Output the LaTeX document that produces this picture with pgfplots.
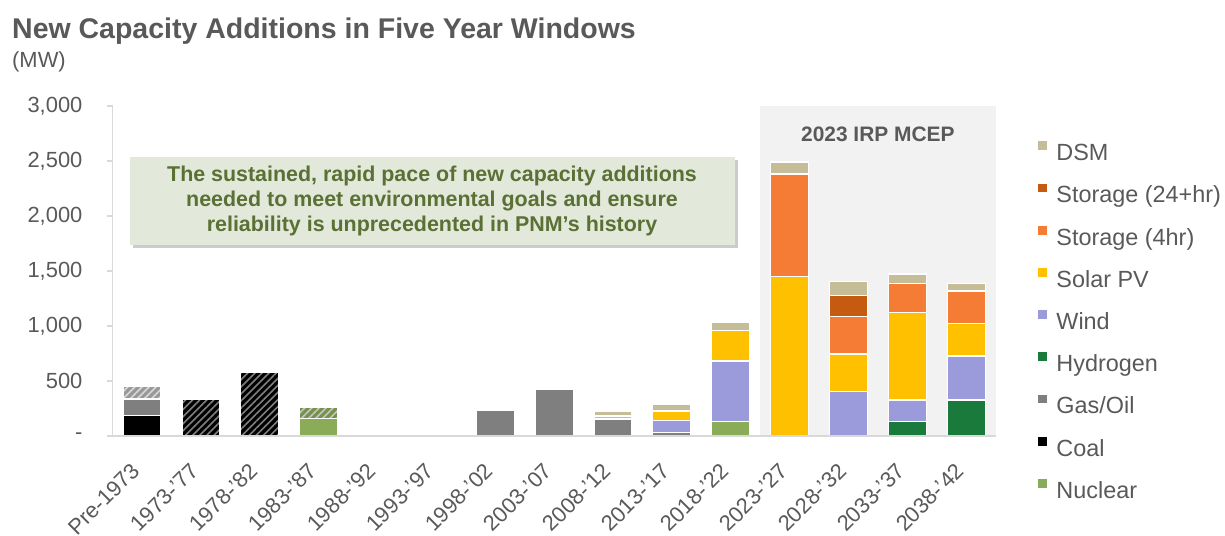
\documentclass[border=0pt]{standalone}
\usepackage{fontspec}
\setmainfont{Liberation Sans}
\usepackage{pgfplots}
\pgfplotsset{compat=1.18}
\usepackage{pgfplotstable}
\usetikzlibrary{patterns.meta,shadows}

\definecolor{dsm}{HTML}{C4BD97}
\definecolor{sttf}{HTML}{C55A11}
\definecolor{stf}{HTML}{F47C34}
\definecolor{solar}{HTML}{FFC000}
\definecolor{wind}{HTML}{9B9BDB}
\definecolor{hyd}{HTML}{1A7A3C}
\definecolor{gas}{HTML}{7F7F7F}
\definecolor{coal}{HTML}{000000}
\definecolor{nuc}{HTML}{8AAC58}
\definecolor{txt}{HTML}{595959}
\definecolor{axisgray}{HTML}{D9D9D9}
\definecolor{boxgray}{HTML}{F2F2F2}
\definecolor{notefill}{HTML}{E3E9DA}
\definecolor{notetext}{HTML}{5A7034}

% MW added per five-year window; *h columns are the hatched parts
\pgfplotstableread{
x  nuc nuch coal coalh gas gash hyd wind solar stf sttf dsm
0  0   0    190  0     146 114  0   0    0     0   0    0
1  0   0    0    335   0   0    0   0    0     0   0    0
2  0   0    0    575   0   0    0   0    0     0   0    0
3  160 104  0    0     0   0    0   0    0     0   0    0
4  0   0    0    0     0   0    0   0    0     0   0    0
5  0   0    0    0     0   0    0   0    0     0   0    0
6  0   0    0    0     230 0    0   0    0     0   0    0
7  0   0    0    0     425 0    0   0    0     0   0    0
8  0   0    0    0     155 0    0   0    27    0   0    45
9  0   0    0    0     30  0    0   113  84    0   0    64
10 130 0    0    0     0   0    0   552  275   0   0    77
11 0   0    0    0     0   0    0   0    1450  932 0    109
12 0   0    0    0     0   0    0   403  342   340 190  131
13 0   0    0    0     0   0    130 197  794   267 0    85
14 0   0    0    0     0   0    327 400  297   294 0    70
}\capdata

\tikzset{hatch/.style={postaction={pattern={Lines[angle=45,distance=5bp,line width=1.6bp]},pattern color=#1}}}

\begin{document}
\begin{tikzpicture}
\path[use as bounding box] (0,0) rectangle (1225bp,-536bp);
\node[anchor=base west, text=txt, inner sep=0pt] at (12bp,-38bp)
  {\fontsize{28.6}{32}\selectfont\bfseries New Capacity Additions in Five Year Windows};
\node[anchor=base west, text=txt, inner sep=0pt] at (12bp,-67bp)
  {\fontsize{22}{26}\selectfont (MW)};
% shaded MCEP window behind the last four bars
\fill[boxgray] (760bp,-436bp) rectangle (995.6bp,-106bp);
\begin{axis}[
  at={(112.6bp,-436bp)}, anchor=south west,
  scale only axis, width=883bp, height=330bp,
  axis on top,
  ybar stacked, bar width=38bp,
  xmin=-0.5, xmax=14.5, ymin=0, ymax=3000,
  clip=false,
  axis x line*=bottom, axis y line*=left,
  axis line style={axisgray, line width=1.5bp},
  tick align=outside,
  xtick={0,...,14},
  xticklabels={Pre-1973,1973-'77,1978-'82,1983-'87,1988-'92,1993-'97,1998-'02,2003-'07,2008-'12,2013-'17,2018-'22,2023-'27,2028-'32,2033-'37,2038-'42},
  xtick style={draw=none},
  minor xtick={-0.5,0.5,...,14.5},
  minor tick length=6bp,
  minor x tick style={axisgray, line width=1.5bp},
  ytick={0,500,...,3000},
  yticklabels={{-\hspace{30bp}},500,{1,000},{1,500},{2,000},{2,500},{3,000}},
  major tick length=6bp,
  ytick style={axisgray, line width=1.5bp},
  xticklabel style={xshift=-6bp, yshift=-25bp, rotate=45, anchor=east, inner sep=0pt, font=\fontsize{22}{26}\selectfont, text=txt},
  yticklabel style={anchor=east, inner sep=0pt, xshift=-24bp, font=\fontsize{22}{26}\selectfont, text=txt},
  every axis plot/.append style={draw=white, line width=1.2bp},
  reverse legend,
  legend cell align=left,
  legend image code/.code={\fill[#1] (0bp,3.4bp) rectangle (10bp,13.4bp);},
  legend style={at={(1.0469,0.897)}, anchor=north west, draw=none, fill=none,
    inner sep=0pt, row sep=17.7bp, font=\fontsize{23.5}{27}\selectfont, text=txt,
    nodes={inner sep=0pt, text height=17bp, text depth=4bp},
    /tikz/every odd column/.append style={column sep=8bp}},
]
\addplot[fill=nuc] table[x=x,y=nuc] {\capdata};
\addlegendentry{Nuclear}
\addplot[fill=nuc!85!black, hatch=white!55!gray, forget plot] table[x=x,y=nuch] {\capdata};
\addplot[fill=coal] table[x=x,y=coal] {\capdata};
\addlegendentry{Coal}
\addplot[fill=coal, hatch=gray, forget plot] table[x=x,y=coalh] {\capdata};
\addplot[fill=gas] table[x=x,y=gas] {\capdata};
\addlegendentry{Gas/Oil}
\addplot[fill=gas!80!white, hatch=white!70!gray, forget plot] table[x=x,y=gash] {\capdata};
\addplot[fill=hyd] table[x=x,y=hyd] {\capdata};
\addlegendentry{Hydrogen}
\addplot[fill=wind] table[x=x,y=wind] {\capdata};
\addlegendentry{Wind}
\addplot[fill=solar] table[x=x,y=solar] {\capdata};
\addlegendentry{Solar PV}
\addplot[fill=stf] table[x=x,y=stf] {\capdata};
\addlegendentry{Storage (4hr)}
\addplot[fill=sttf] table[x=x,y=sttf] {\capdata};
\addlegendentry{Storage (24+hr)}
\addplot[fill=dsm] table[x=x,y=dsm] {\capdata};
\addlegendentry{DSM}
\node[text=txt, font=\fontsize{21}{25}\selectfont\bfseries] at (axis cs:12.5,2745) {2023 IRP MCEP};
\end{axis}
\node[fill=notefill, text=notetext, align=center, minimum width=605bp, minimum height=88bp,
  font=\fontsize{21.5}{25}\selectfont\bfseries,
  drop shadow={shadow xshift=3bp, shadow yshift=-3bp, fill=black!40}]
  at (432bp,-201bp)
  {The sustained, rapid pace of new capacity additions\\
   needed to meet environmental goals and ensure\\
   reliability is unprecedented in PNM’s history};
\end{tikzpicture}
\end{document}
